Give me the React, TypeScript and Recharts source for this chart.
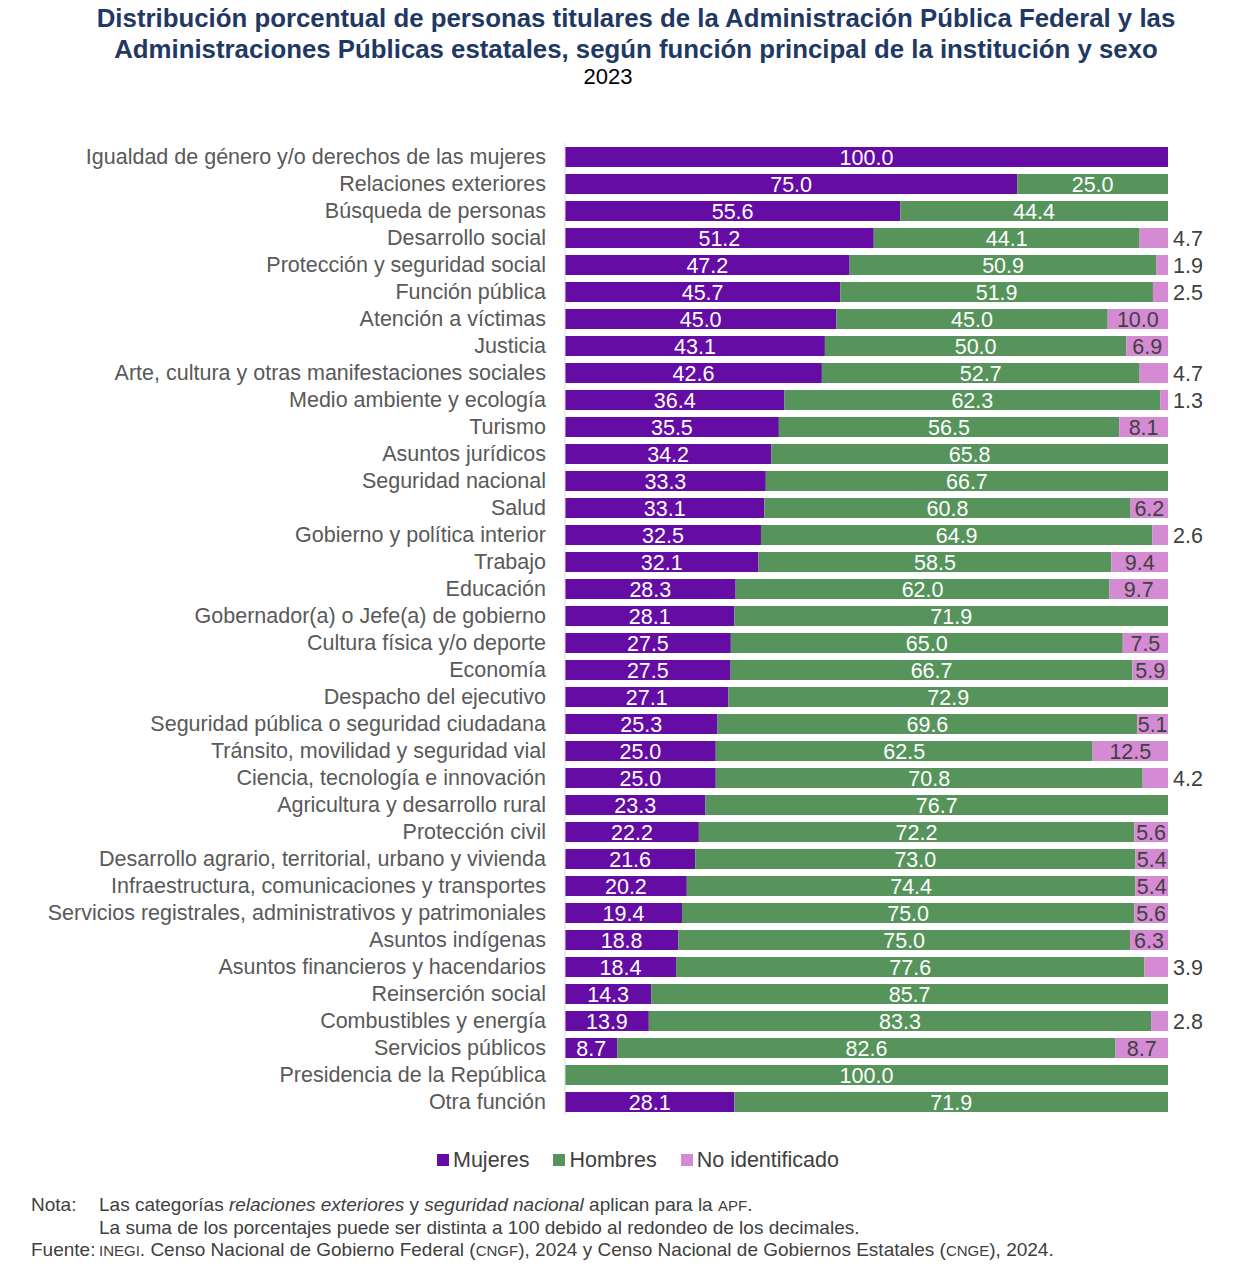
import { BarChart, Bar, XAxis, YAxis, LabelList } from "recharts";

const categories = [
  "Igualdad de género y/o derechos de las mujeres",
  "Relaciones exteriores",
  "Búsqueda de personas",
  "Desarrollo social",
  "Protección y seguridad social",
  "Función pública",
  "Atención a víctimas",
  "Justicia",
  "Arte, cultura y otras manifestaciones sociales",
  "Medio ambiente y ecología",
  "Turismo",
  "Asuntos jurídicos",
  "Seguridad nacional",
  "Salud",
  "Gobierno y política interior",
  "Trabajo",
  "Educación",
  "Gobernador(a) o Jefe(a) de gobierno",
  "Cultura física y/o deporte",
  "Economía",
  "Despacho del ejecutivo",
  "Seguridad pública o seguridad ciudadana",
  "Tránsito, movilidad y seguridad vial",
  "Ciencia, tecnología e innovación",
  "Agricultura y desarrollo rural",
  "Protección civil",
  "Desarrollo agrario, territorial, urbano y vivienda",
  "Infraestructura, comunicaciones y transportes",
  "Servicios registrales, administrativos y patrimoniales",
  "Asuntos indígenas",
  "Asuntos financieros y hacendarios",
  "Reinserción social",
  "Combustibles y energía",
  "Servicios públicos",
  "Presidencia de la República",
  "Otra función",
];

const mujeres = [
  100.0, 75.0, 55.6, 51.2, 47.2, 45.7, 45.0, 43.1, 42.6, 36.4, 35.5, 34.2,
  33.3, 33.1, 32.5, 32.1, 28.3, 28.1, 27.5, 27.5, 27.1, 25.3, 25.0, 25.0,
  23.3, 22.2, 21.6, 20.2, 19.4, 18.8, 18.4, 14.3, 13.9, 8.7, 0, 28.1,
];

const hombres = [
  0, 25.0, 44.4, 44.1, 50.9, 51.9, 45.0, 50.0, 52.7, 62.3, 56.5, 65.8, 66.7,
  60.8, 64.9, 58.5, 62.0, 71.9, 65.0, 66.7, 72.9, 69.6, 62.5, 70.8, 76.7,
  72.2, 73.0, 74.4, 75.0, 75.0, 77.6, 85.7, 83.3, 82.6, 100.0, 71.9,
];

const noIdentificado = [
  0, 0, 0, 4.7, 1.9, 2.5, 10.0, 6.9, 4.7, 1.3, 8.1, 0, 0, 6.2, 2.6, 9.4, 9.7,
  0, 7.5, 5.9, 0, 5.1, 12.5, 4.2, 0, 5.6, 5.4, 5.4, 5.6, 6.3, 3.9, 0, 2.8, 8.7,
  0, 0,
];

const seriesNames = ["Mujeres", "Hombres", "No identificado"];

const data = categories.map((name, i) => ({
  name,
  m: mujeres[i],
  h: hombres[i],
  ni: noIdentificado[i],
}));

const FONT = "'Liberation Sans', Arial, sans-serif";
const PURPLE = "#640ca4";
const GREEN = "#56945c";
const PINK = "#d58bd4";
const COLORS = [PURPLE, GREEN, PINK];

const fmt = (v: number) => v.toFixed(1);

const innerLabel = (color: string) => (props: any) => {
  const { x, y, width, height, value } = props;
  if (!value) return null;
  return (
    <text
      x={x + width / 2}
      y={y + height / 2}
      dy={7.5}
      textAnchor="middle"
      fill={color}
      fontSize={21.5}
      fontFamily={FONT}
    >
      {fmt(value)}
    </text>
  );
};

// small "no identificado" values go to the right of the bar
const niLabel = (props: any) => {
  const { x, y, width, height, value } = props;
  if (!value) return null;
  const outside = value < 5;
  return (
    <text
      x={outside ? x + width + 5 : x + width / 2}
      y={y + height / 2}
      dy={7.5}
      textAnchor={outside ? "start" : "middle"}
      fill="#404040"
      fontSize={21.5}
      fontFamily={FONT}
    >
      {fmt(value)}
    </text>
  );
};

const sc = { fontSize: 15 };

export default function App() {
  return (
    <div
      style={{
        position: "absolute",
        left: 0,
        top: 0,
        width: 1246,
        height: 1267,
        background: "#fff",
        fontFamily: FONT,
      }}
    >
      <div
        style={{
          position: "absolute",
          top: 3,
          left: 26,
          width: 1220,
          textAlign: "center",
          color: "#1f3864",
          fontWeight: "bold",
          fontSize: 25.8,
          lineHeight: "31px",
          whiteSpace: "nowrap",
        }}
      >
        Distribución porcentual de personas titulares de la Administración
        Pública Federal y las
        <br />
        Administraciones Públicas estatales, según función principal de la
        institución y sexo
      </div>
      <div
        style={{
          position: "absolute",
          top: 64,
          left: 0,
          width: 1216,
          textAlign: "center",
          color: "#000",
          fontSize: 22,
        }}
      >
        2023
      </div>

      <div style={{ position: "absolute", left: 0, top: 0 }}>
        <BarChart
          width={1246}
          height={1115}
          data={data}
          layout="vertical"
          stackOffset="expand"
          margin={{ top: 143, right: 78, bottom: 0, left: 0 }}
        >
          <XAxis type="number" hide domain={[0, 1]} />
          <YAxis
            type="category"
            dataKey="name"
            width={565}
            interval={0}
            tickLine={false}
            tickSize={6}
            tickMargin={13}
            axisLine={{ stroke: "#d9d9d9" }}
            tick={{ fill: "#595959", fontSize: 21.5, fontFamily: FONT }}
          />
          <Bar
            dataKey="m"
            name={seriesNames[0]}
            stackId="a"
            fill={PURPLE}
            barSize={20}
            isAnimationActive={false}
          >
            <LabelList dataKey="m" content={innerLabel("#fff")} />
          </Bar>
          <Bar
            dataKey="h"
            name={seriesNames[1]}
            stackId="a"
            fill={GREEN}
            barSize={20}
            isAnimationActive={false}
          >
            <LabelList dataKey="h" content={innerLabel("#fff")} />
          </Bar>
          <Bar
            dataKey="ni"
            name={seriesNames[2]}
            stackId="a"
            fill={PINK}
            barSize={20}
            isAnimationActive={false}
          >
            <LabelList dataKey="ni" content={niLabel} />
          </Bar>
        </BarChart>
      </div>

      {/* Legend */}
      <div
        style={{
          position: "absolute",
          top: 1147,
          left: 437,
          display: "flex",
          alignItems: "center",
          fontSize: 21.5,
          color: "#404040",
          lineHeight: "26px",
        }}
      >
        {seriesNames.map((n, i) => (
          <div
            key={n}
            style={{ display: "flex", alignItems: "center", marginRight: 24 }}
          >
            <span
              style={{
                display: "inline-block",
                width: 12,
                height: 12,
                background: COLORS[i],
                marginRight: 4,
              }}
            />
            {n}
          </div>
        ))}
      </div>

      {/* Notes */}
      <div
        style={{
          position: "absolute",
          top: 1194,
          left: 31,
          fontSize: 19,
          color: "#404040",
          lineHeight: "22px",
          whiteSpace: "nowrap",
        }}
      >
        <div>
          <span style={{ display: "inline-block", width: 68 }}>Nota:</span>
          Las categorías <i>relaciones exteriores</i> y{" "}
          <i>seguridad nacional</i> aplican para la <span style={sc}>APF</span>.
        </div>
        <div style={{ paddingLeft: 68 }}>
          La suma de los porcentajes puede ser distinta a 100 debido al
          redondeo de los decimales.
        </div>
        <div>
          <span style={{ display: "inline-block", width: 68 }}>Fuente:</span>
          <span style={sc}>INEGI</span>. Censo Nacional de Gobierno Federal (
          <span style={sc}>CNGF</span>), 2024 y Censo Nacional de Gobiernos
          Estatales (<span style={sc}>CNGE</span>), 2024.
        </div>
      </div>
    </div>
  );
}
